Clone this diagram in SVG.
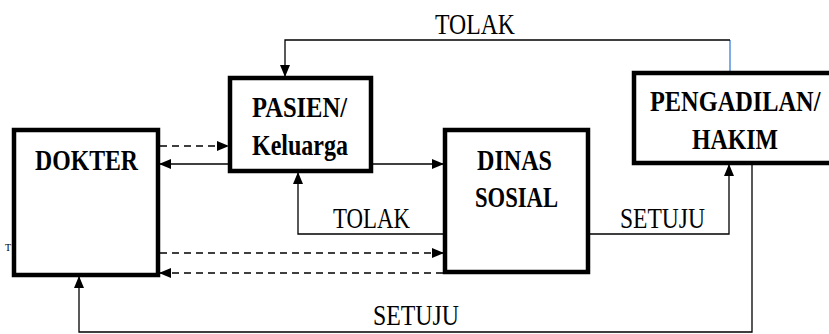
<svg xmlns="http://www.w3.org/2000/svg" width="829" height="334" viewBox="0 0 829 334">
<defs>
<marker id="arr" markerUnits="userSpaceOnUse" markerWidth="12" markerHeight="10" refX="11" refY="5" orient="auto">
<path d="M0,0 L12,5 L0,10 Z" fill="#000"/>
</marker>
<style>
.box{fill:#fff;stroke:#000;stroke-width:4.5}
.lbl{font-family:"Liberation Serif","Times New Roman",serif;font-weight:bold;font-size:29px;fill:#000}
.ed{fill:none;stroke:#000;stroke-width:1.3}
.dash{stroke-dasharray:7,5}
.etxt{font-family:"Liberation Serif","Times New Roman",serif;font-size:29px;fill:#000}
</style>
</defs>
<rect width="829" height="334" fill="#fff"/>
<text x="8" y="251" font-family="Liberation Serif, serif" font-size="10" text-anchor="middle">T</text>
<g id="connectors">
<line x1="730" y1="71" x2="730" y2="40" stroke="#3d7fd9" stroke-width="1.3"/>
<path class="ed" d="M730,40 H285 V76" marker-end="url(#arr)"/>
<path class="ed dash" d="M160,146 H228" marker-end="url(#arr)"/>
<path class="ed" d="M228,164 H160" marker-end="url(#arr)"/>
<path class="ed" d="M373,164 H443" marker-end="url(#arr)"/>
<path class="ed" d="M443,234 H298 V173" marker-end="url(#arr)"/>
<path class="ed dash" d="M160,253 H443" marker-end="url(#arr)"/>
<path class="ed dash" d="M443,273 H160" marker-end="url(#arr)"/>
<path class="ed" d="M590,234 H729 V165" marker-end="url(#arr)"/>
<path class="ed" d="M752,165 V332 H79 V277" marker-end="url(#arr)"/>
<text class="etxt" x="435" y="34" textLength="80" lengthAdjust="spacingAndGlyphs">TOLAK</text>
<text class="etxt" x="333" y="228" textLength="77" lengthAdjust="spacingAndGlyphs">TOLAK</text>
<text class="etxt" x="620" y="228" textLength="85" lengthAdjust="spacingAndGlyphs">SETUJU</text>
<text class="etxt" x="373" y="325" textLength="86" lengthAdjust="spacingAndGlyphs">SETUJU</text>
</g>
<g id="dokter">
<rect class="box" x="14" y="130" width="144" height="145"/>
<text class="lbl" x="35" y="170" textLength="103" lengthAdjust="spacingAndGlyphs">DOKTER</text>
</g>
<g id="pasien">
<rect class="box" x="230" y="78" width="141" height="93"/>
<text class="lbl" x="252" y="117" textLength="95" lengthAdjust="spacingAndGlyphs">PASIEN/</text>
<text class="lbl" x="252" y="155" textLength="96" lengthAdjust="spacingAndGlyphs">Keluarga</text>
</g>
<g id="dinas">
<rect class="box" x="445" y="130" width="143" height="142"/>
<text class="lbl" x="477" y="170" textLength="75" lengthAdjust="spacingAndGlyphs">DINAS</text>
<text class="lbl" x="475" y="207" textLength="83" lengthAdjust="spacingAndGlyphs">SOSIAL</text>
</g>
<g id="pengadilan">
<path d="M829,73 H634 V163 H829" fill="#fff" stroke="#000" stroke-width="4.5"/>
<text class="lbl" transform="translate(650,111) scale(0.84,1)" x="0" y="0">PENGADILAN/</text>
<text class="lbl" x="692" y="149" textLength="86" lengthAdjust="spacingAndGlyphs">HAKIM</text>
</g>
</svg>
